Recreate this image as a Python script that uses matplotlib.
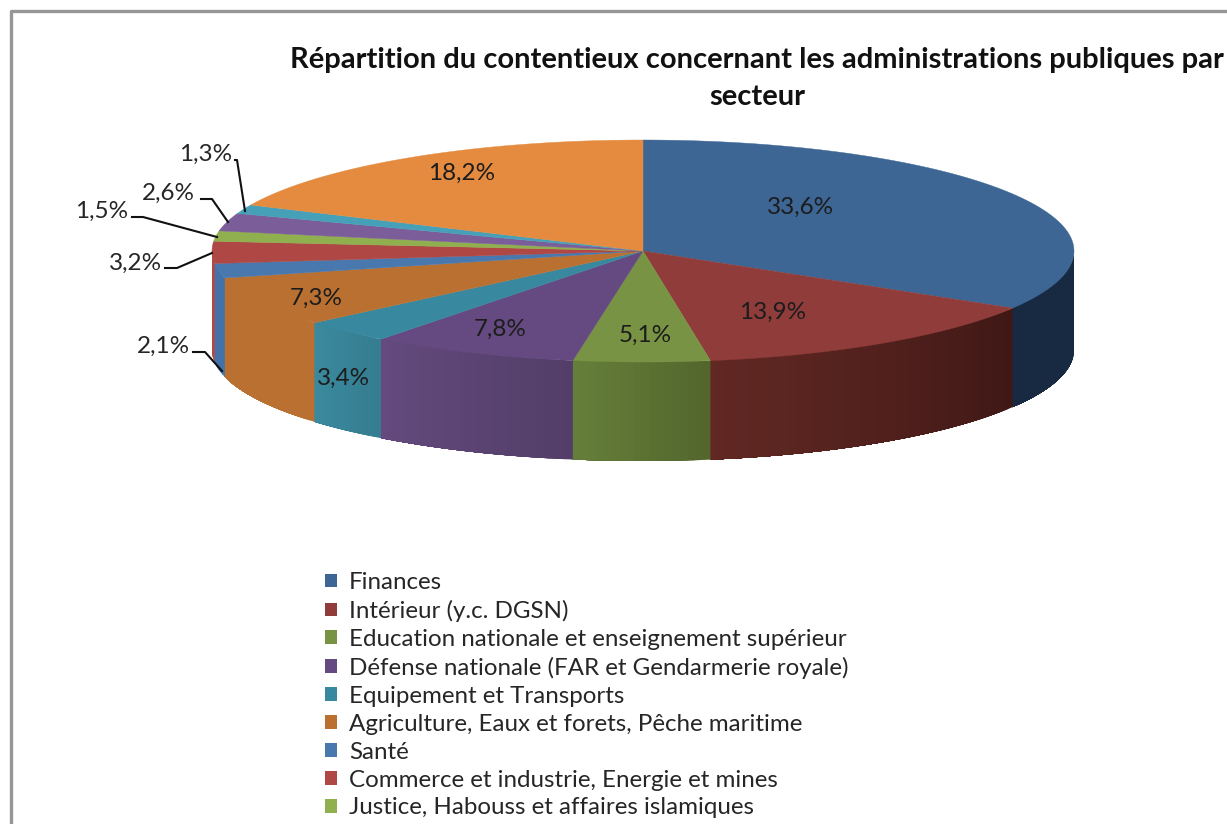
import numpy as np
import matplotlib
matplotlib.use("Agg")
import matplotlib.pyplot as plt
from matplotlib.colors import to_rgb
from matplotlib.patches import Patch

plt.rcParams['font.family'] = ['Lato', 'DejaVu Sans']

# valeurs
values = [33.6, 13.9, 5.1, 7.8, 3.4, 7.3, 2.1, 3.2, 1.5, 2.6, 1.3, 18.2]
value_labels = ["33,6%", "13,9%", "5,1%", "7,8%", "3,4%", "7,3%",
                "2,1%", "3,2%", "1,5%", "2,6%", "1,3%", "18,2%"]
categories = ["Finances", "Intérieur (y.c. DGSN)",
              "Education nationale et enseignement supérieur",
              "Défense nationale (FAR et Gendarmerie royale)",
              "Equipement et Transports",
              "Agriculture, Eaux et forets, Pêche maritime",
              "Santé", "Commerce et industrie, Energie et mines",
              "Justice, Habouss et affaires islamiques"]

top_colors = ["#3D6695", "#8F3C3A", "#789344", "#644A80", "#38889F", "#BA7030",
              "#4878AD", "#AF4845", "#90AF4E", "#7A5D99", "#45A0B8", "#E58B3F"]
# couleurs des flancs : debut et fin de chaque tranche (de droite a gauche)
side_start = ["#172A41", "#3F1816", "#52662D", "#523E68", "#357C90", "#BA7030",
              "#4272A8", "#AF4845", "#90AF4E", "#7A5D99", "#45A0B8", "#E58B3F"]
side_end = ["#172A41", "#622823", "#667F3A", "#644A7E", "#3A8A9E", "#BA7030",
            "#4272A8", "#AF4845", "#90AF4E", "#7A5D99", "#45A0B8", "#E58B3F"]

# geometrie du camembert en pixels
cx, cy = 643, 251
rx, ry = 431, 111
depth = 99


def ellipse_xy(deg):
    # angle compte depuis le haut dans le sens horaire
    rad = np.radians(deg)
    return cx + rx * np.sin(rad), cy - ry * np.cos(rad)


fig = plt.figure(figsize=(12.27, 8.24), dpi=100, facecolor="white")
ax = fig.add_axes([0, 0, 1, 1])
ax.set_xlim(0, 1227)
ax.set_ylim(824, 0)
ax.axis("off")

# cadre gris
ax.plot([10.5, 10.5, 1227], [824, 11, 11], color="#969696", lw=2.4, solid_capstyle="butt")

edges = np.concatenate([[0], np.cumsum(values)]) * 3.6

# flancs visibles, par bandes qui se recouvrent pour eviter les raccords
for i in range(len(values)):
    a0, a1 = edges[i], edges[i + 1]
    lo, hi = max(a0, 90), min(a1, 270)
    if lo >= hi:
        continue
    steps = np.linspace(lo, hi, max(2, int(hi - lo) + 1))
    c0, c1 = np.array(to_rgb(side_start[i])), np.array(to_rgb(side_end[i]))
    for s0, s1 in zip(steps[:-1], steps[1:]):
        t = ((s0 + s1) / 2 - a0) / (a1 - a0)
        col = c0 + (c1 - c0) * t
        arc = np.linspace(s0, hi, 60)
        xs, ys = ellipse_xy(arc)
        ax.fill(np.r_[xs, xs[::-1]], np.r_[ys, ys[::-1] + depth],
                facecolor=col, edgecolor="none", zorder=2)

# dessus du camembert
for i in range(len(values)):
    arc = np.linspace(edges[i], edges[i + 1], 120)
    xs, ys = ellipse_xy(arc)
    ax.fill(np.r_[cx, xs], np.r_[cy, ys], color=top_colors[i], lw=0.3, zorder=3)

# etiquettes dans le camembert
inside = {0: (800, 207), 1: (773, 312), 2: (645, 335), 3: (500, 329),
          4: (343, 378), 5: (316, 298), 11: (462, 173)}
for i, pos in inside.items():
    ax.text(pos[0], pos[1], value_labels[i], fontsize=17.5, color="#1C1C1C",
            ha="center", va="center", zorder=5)

# etiquettes exterieures avec leur trait
outside = {6: ((163, 346), [(193, 352), (205, 352), (222, 371)]),
           7: ((135, 263), [(165, 268), (177, 268), (212, 253)]),
           8: ((102, 211), [(132, 217), (143, 217), (217, 237)]),
           9: ((168, 193), [(201, 199), (212, 199), (228, 222)]),
           10: ((206, 154), [(235, 160), (237, 160), (245, 211)])}
for i, (pos, line) in outside.items():
    ax.text(pos[0], pos[1], value_labels[i], fontsize=17.5, color="#262626",
            ha="center", va="center", zorder=5)
    ax.plot([p[0] for p in line], [p[1] for p in line], color="#111111", lw=1.5, zorder=6)

# titre
ax.text(757, 60, "Répartition du contentieux concernant les administrations publiques par",
        fontsize=21, fontweight="bold", color="#111111", ha="center", va="center")
ax.text(757, 97, "secteur", fontsize=21, fontweight="bold", color="#111111",
        ha="center", va="center")

# legende
handles = [Patch(facecolor=top_colors[i], edgecolor="none") for i in range(len(categories))]
leg = ax.legend(handles, categories, loc="upper left", bbox_to_anchor=(325 / 1227, 1 - 572 / 824),
                bbox_transform=fig.transFigure, frameon=False, fontsize=17.4,
                handlelength=0.5, handleheight=0.5, handletextpad=0.5,
                labelspacing=0.286, borderpad=0, borderaxespad=0)
for t in leg.get_texts():
    t.set_color("#262626")

fig.savefig("out.png", dpi=100)
